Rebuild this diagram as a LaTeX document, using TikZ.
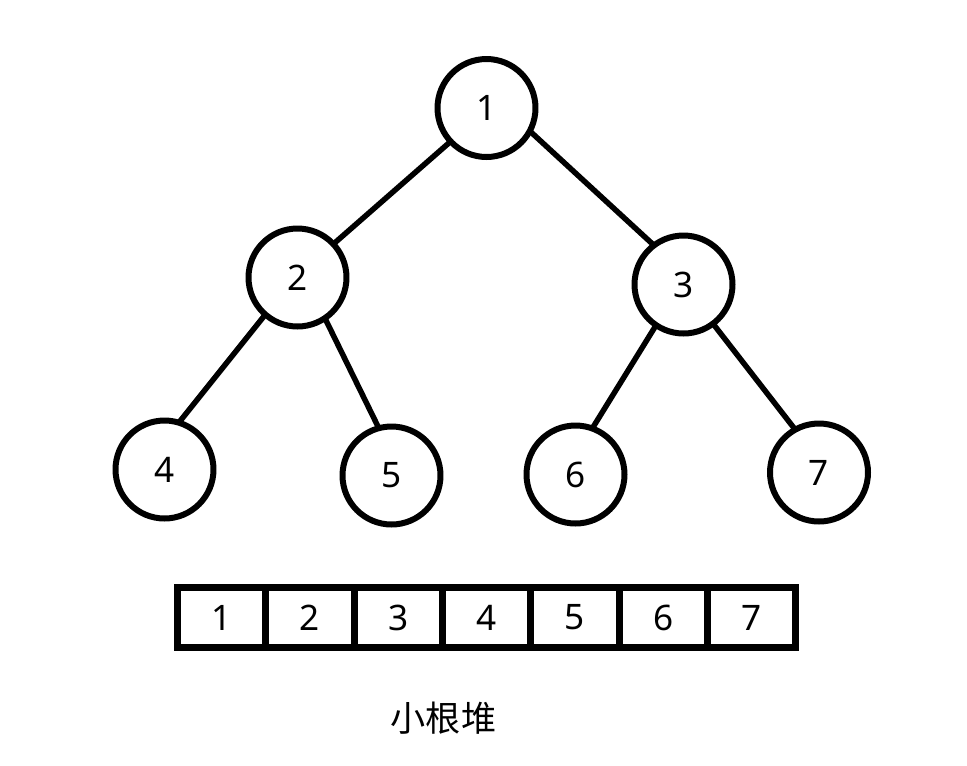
\documentclass[tikz,border=0pt]{standalone}
\usepackage{fontspec}
\setmainfont{Noto Sans}
\newfontfamily\cjk{Noto Sans CJK SC}
\usetikzlibrary{positioning}

\begin{document}
\begin{tikzpicture}[
    x=0.02cm, y=-0.02cm,
    vertex/.style={circle, draw, line width=0.12cm, minimum size=1.96cm, inner sep=0pt, outer sep=0pt, font=\fontsize{20}{24}\selectfont},
    cell/.style={rectangle, draw, line width=0.14cm, minimum width=1.768cm, minimum height=1.2cm, inner sep=0pt, outer sep=0pt, font=\fontsize{20}{24}\selectfont},
    line/.style={draw, line width=0.11cm}
]
    \useasboundingbox (0,0) rectangle (967,765);

    % heap as a tree
    \node [vertex] (n1) at (486.5,108) {1};
    \node [vertex] (n2) at (297.5,277.5) {2};
    \node [vertex] (n3) at (683.5,284.5) {3};
    \node [vertex] (n4) at (164.5,469.5) {4};
    \node [vertex] (n5) at (391.5,475.5) {5};
    \node [vertex] (n6) at (575.5,474.5) {6};
    \node [vertex] (n7) at (819,472.5) {7};

    \draw [line] (n1.223) -- (n2.43);
    \draw [line] (n1.332) -- (n3.127);
    \draw [line] (n2.229) -- (n4.73);
    \draw [line] (n2.304) -- (n5.105);
    \draw [line] (n3.236) -- (n6.70);
    \draw [line] (n3.307) -- (n7.119);

    % heap as an array
    \node [cell] (a1) at (221.5,617.5) {1};
    \node [cell, right=0pt of a1] (a2) {2};
    \node [cell, right=0pt of a2] (a3) {3};
    \node [cell, right=0pt of a3] (a4) {4};
    \node [cell, right=0pt of a4] (a5) {5};
    \node [cell, right=0pt of a5] (a6) {6};
    \node [cell, right=0pt of a6] (a7) {7};

    \node [font=\fontsize{20}{24}\selectfont] (caption) at (443.5,718) {\cjk 小根堆};
\end{tikzpicture}
\end{document}
